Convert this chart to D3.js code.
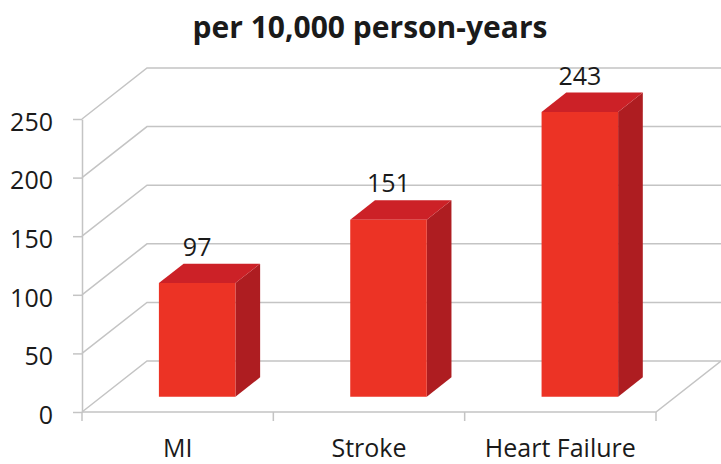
<!DOCTYPE html>
<html>
  <head>
    <script src="https://cdn.jsdelivr.net/npm/d3@7"></script>
    <style>
      body { margin: 0; background: #fff; }
      text { font-family: "Open Sans", sans-serif; fill: #1a1a1a; }
    </style>
  </head>
  <body>
    <svg id="chart" width="721" height="464"></svg>

    <script>
      // data
      var categories = ["MI", "Stroke", "Heart Failure"];
      var values = [97, 151, 243];
      var yTicks = [0, 50, 100, 150, 200, 250];
      var title = "per 10,000 person-years";

      var svg = d3.select("#chart");

      // front plane of the box, and the depth vector of the 3d view
      var left = 82, right = 656, floorY = 412, topY = 119;
      var depthX = 65, depthY = -51;
      var barFront = 0.3, barBack = 0.68;
      var grid = "#c4c4c4";

      var x = d3.scaleBand().domain(categories).range([left, right])
        .paddingInner(0.6).paddingOuter(0.3);
      var y = d3.scaleLinear().domain([0, 250]).range([floorY, topY]);

      function proj(px, py, d) {
        return [px + d * depthX, py + d * depthY];
      }
      function pts(arr) { return arr.map(function(p) { return p.join(","); }).join(" "); }

      // gridlines: diagonal on the left wall, then flat on the back wall
      svg.append("g").selectAll("polyline")
        .data(yTicks)
        .join("polyline")
        .attr("points", function(v) {
          var b = proj(left, y(v), 1);
          return pts([[left, y(v)], b, [721, b[1]]]);
        })
        .attr("fill", "none")
        .attr("stroke", grid)
        .attr("stroke-width", 1.5);

      // floor front edge and right edge
      var fr = proj(right, floorY, 1);
      svg.append("polyline")
        .attr("points", pts([[left, floorY], [right, floorY], fr]))
        .attr("fill", "none")
        .attr("stroke", grid)
        .attr("stroke-width", 1.5);

      // category tick marks under the floor edge
      var step = x.step();
      var bounds = d3.range(categories.length + 1).map(function(i) { return left + i * step; });
      svg.append("g").selectAll("line")
        .data(bounds)
        .join("line")
        .attr("x1", function(d) { return d; }).attr("x2", function(d) { return d; })
        .attr("y1", floorY).attr("y2", floorY + 9)
        .attr("stroke", grid)
        .attr("stroke-width", 1.5);

      // value axis
      var yAxis = svg.append("g")
        .attr("transform", "translate(" + left + ",0)")
        .call(d3.axisLeft(y).tickValues(yTicks).tickSize(9).tickSizeOuter(0).tickPadding(20));
      yAxis.select(".domain").attr("stroke", grid).attr("stroke-width", 1.5);
      yAxis.selectAll(".tick line").attr("stroke", grid).attr("stroke-width", 1.5);
      yAxis.selectAll(".tick text")
        .attr("dy", "0.45em")
        .style("font-size", "25px")
        .style("font-family", "'Open Sans', sans-serif")
        .attr("fill", "#1a1a1a");

      // bars
      var bars = svg.append("g").selectAll("g")
        .data(categories.map(function(c, i) { return { cat: c, val: values[i] }; }))
        .join("g");

      bars.each(function(d) {
        var g = d3.select(this);
        var x0 = x(d.cat), x1 = x(d.cat) + x.bandwidth();
        var yb = y(0), yt = y(d.val);
        var fTL = proj(x0, yt, barFront), fTR = proj(x1, yt, barFront);
        var fBR = proj(x1, yb, barFront), fBL = proj(x0, yb, barFront);
        var bTL = proj(x0, yt, barBack), bTR = proj(x1, yt, barBack);
        var bBR = proj(x1, yb, barBack);

        g.append("polygon").attr("points", pts([fTR, bTR, bBR, fBR])).attr("fill", "#ae1d21");
        g.append("polygon").attr("points", pts([fTL, bTL, bTR, fTR])).attr("fill", "#cc2127");
        g.append("polygon").attr("points", pts([fTL, fTR, fBR, fBL])).attr("fill", "#ec3325");

        g.append("text")
          .attr("x", (fTL[0] + fTR[0]) / 2)
          .attr("y", bTL[1] - 8)
          .attr("text-anchor", "middle")
          .style("font-size", "25px")
          .text(d.val);
      });

      // category labels
      svg.append("g").selectAll("text")
        .data(categories)
        .join("text")
        .attr("x", function(d) { return x(d) + x.bandwidth() / 2; })
        .attr("y", 457)
        .attr("text-anchor", "middle")
        .style("font-size", "25px")
        .text(function(d) { return d; });

      // title
      svg.append("text")
        .attr("x", 370)
        .attr("y", 38)
        .attr("text-anchor", "middle")
        .style("font-size", "30px")
        .style("font-weight", "bold")
        .text(title);
    </script>
  </body>
</html>
